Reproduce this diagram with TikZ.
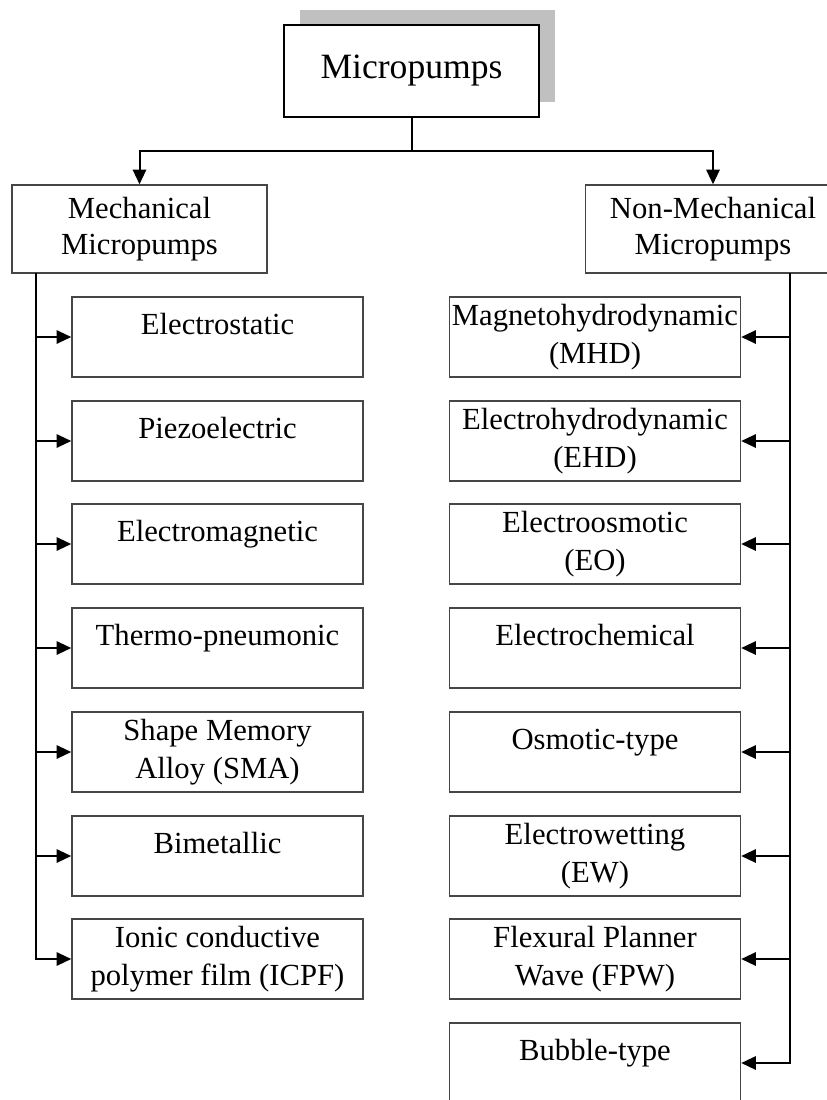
\documentclass[tikz,border=0pt]{standalone}
\usepackage{fontspec}
\setmainfont{Liberation Serif}
\usepackage{xcolor}
\usepackage{tikz}
\usetikzlibrary{arrows.meta,positioning,shadows}

\definecolor{shadowgray}{RGB}{192,192,192}
\definecolor{boxgray}{RGB}{70,70,70}

\begin{document}
\begin{tikzpicture}[
    x=0.75pt, y=-0.75pt,
    topbox/.style={rectangle, draw=black, line width=1.8pt, fill=white, minimum width=191.25pt, minimum height=69pt, inner sep=0pt, font=\fontsize{26.7}{32}\selectfont, drop shadow={shadow xshift=12pt, shadow yshift=11.25pt, fill=shadowgray, opacity=1}},
    groupbox/.style={rectangle, draw=boxgray, line width=1.1pt, fill=white, minimum width=191.25pt, minimum height=66pt, inner sep=0pt, align=center, font=\fontsize{23}{26.5}\selectfont},
    pumpbox/.style={rectangle, draw=boxgray, line width=1.1pt, fill=white, minimum width=218.25pt, minimum height=60pt, inner sep=0pt, align=center, font=\fontsize{23}{28.5}\selectfont},
    onebox/.style={pumpbox, text height=27.75pt, text depth=32.25pt},
    pline/.style={line width=1.5pt, black},
    parrow/.style={-{Triangle[length=11pt, width=10pt]}, line width=1.5pt, black}
  ]
    \useasboundingbox (0,0) rectangle (827,1100);
    \clip (0,0) rectangle (827,1100);

    \node[topbox] (top) at (411.5, 71) {Micropumps};

    \node[groupbox] (mech) at (139.5, 229) {Mechanical\\Micropumps};
    \node[groupbox] (nonmech) at (713, 229) {Non-Mechanical\\Micropumps};

    % mechanical column
    \node[onebox] (estat) at (217.5, 337) {Electrostatic};
    \node[onebox] (piezo) at (217.5, 441) {Piezoelectric};
    \node[onebox] (emag) at (217.5, 544) {Electromagnetic};
    \node[onebox] (thermo) at (217.5, 648) {Thermo-pneumonic};
    \node[pumpbox] (sma) at (217.5, 752) {Shape Memory\\Alloy (SMA)};
    \node[onebox] (bimet) at (217.5, 856) {Bimetallic};
    \node[pumpbox] (icpf) at (217.5, 959) {Ionic conductive\\polymer film (ICPF)};

    % non-mechanical column
    \node[pumpbox] (mhd) at (595, 337) {Magnetohydrodynamic\\(MHD)};
    \node[pumpbox] (ehd) at (595, 441) {Electrohydrodynamic\\(EHD)};
    \node[pumpbox] (eo) at (595, 544) {Electroosmotic\\(EO)};
    \node[onebox] (echem) at (595, 648) {Electrochemical};
    \node[onebox] (osmo) at (595, 752) {Osmotic-type};
    \node[pumpbox] (ew) at (595, 856) {Electrowetting\\(EW)};
    \node[pumpbox] (fpw) at (595, 959) {Flexural Planner\\Wave (FPW)};
    \node[onebox] (bubble) at (595, 1063) {Bubble-type};

    \coordinate (split) at (411.5, 151);
    \coordinate (ltrunk) at (36, 273);
    \coordinate (rtrunk) at (790, 273);

    \draw[pline] (top.south) -- (split);
    \draw[parrow] (split) -| (mech.north);
    \draw[parrow] (split) -| (nonmech.north);

    \draw[parrow] (ltrunk) |- (icpf.west);
    \draw[parrow] (estat.west -| ltrunk) -- (estat.west);
    \draw[parrow] (piezo.west -| ltrunk) -- (piezo.west);
    \draw[parrow] (emag.west -| ltrunk) -- (emag.west);
    \draw[parrow] (thermo.west -| ltrunk) -- (thermo.west);
    \draw[parrow] (sma.west -| ltrunk) -- (sma.west);
    \draw[parrow] (bimet.west -| ltrunk) -- (bimet.west);

    \draw[parrow] (rtrunk) |- (bubble.east);
    \draw[parrow] (mhd.east -| rtrunk) -- (mhd.east);
    \draw[parrow] (ehd.east -| rtrunk) -- (ehd.east);
    \draw[parrow] (eo.east -| rtrunk) -- (eo.east);
    \draw[parrow] (echem.east -| rtrunk) -- (echem.east);
    \draw[parrow] (osmo.east -| rtrunk) -- (osmo.east);
    \draw[parrow] (ew.east -| rtrunk) -- (ew.east);
    \draw[parrow] (fpw.east -| rtrunk) -- (fpw.east);
  \end{tikzpicture}
\end{document}
